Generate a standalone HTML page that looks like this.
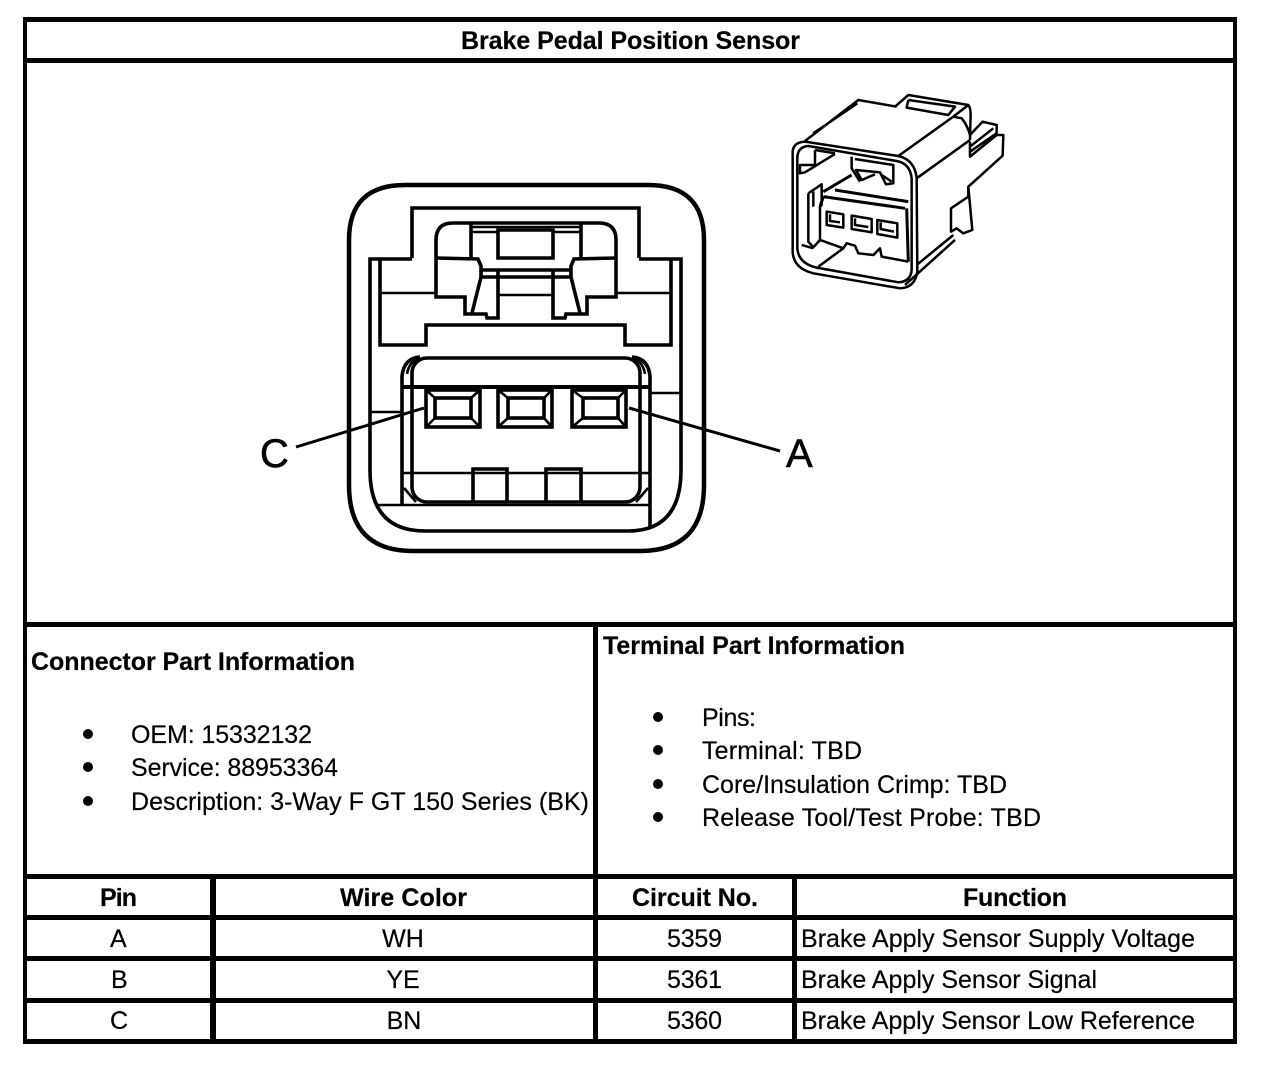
<!DOCTYPE html>
<html>
<head>
<meta charset="utf-8">
<style>
html,body{margin:0;padding:0;background:#fff;width:1264px;height:1072px;overflow:hidden}
svg{display:block}
text{font-family:"Liberation Sans",sans-serif;font-size:25px;fill:#000;stroke:#000;stroke-width:.2}
.b{font-weight:bold}
.l{font-size:40px;stroke-width:.6}
.d{fill:none;stroke:#000;stroke-width:3.6;stroke-linejoin:miter}
.t{fill:none;stroke:#000;stroke-width:2.6}
.p{fill:none;stroke:#000;stroke-width:7.5;stroke-linejoin:round}
</style>
</head>
<body>
<svg width="1264" height="1072" viewBox="0 0 1264 1072" xmlns="http://www.w3.org/2000/svg">
<rect width="1264" height="1072" fill="#fff"/>
<g fill="#000" shape-rendering="crispEdges">
<rect x="23" y="17" width="1214" height="5"/>
<rect x="23" y="58" width="1214" height="5"/>
<rect x="23" y="622" width="1214" height="5"/>
<rect x="23" y="874" width="1214" height="5"/>
<rect x="23" y="915" width="1214" height="5"/>
<rect x="23" y="956" width="1214" height="5"/>
<rect x="23" y="998" width="1214" height="5"/>
<rect x="23" y="1039" width="1214" height="5"/>
<rect x="23" y="17" width="4" height="1027"/>
<rect x="1233" y="17" width="4" height="1027"/>
<rect x="593" y="622" width="5" height="422"/>
<rect x="210" y="874" width="6" height="170"/>
<rect x="792" y="874" width="5" height="170"/>
</g>

<text class="b" x="461" y="49" textLength="339" lengthAdjust="spacing">Brake Pedal Position Sensor</text>
<text class="b" x="31" y="670" textLength="324" lengthAdjust="spacing">Connector Part Information</text>
<text class="b" x="603" y="654" textLength="302" lengthAdjust="spacing">Terminal Part Information</text>

<g fill="#000">
<circle cx="88" cy="734" r="5"/><circle cx="88" cy="767" r="5"/><circle cx="88" cy="801" r="5"/>
<circle cx="658" cy="717" r="5"/><circle cx="658" cy="750" r="5"/><circle cx="658" cy="784" r="5"/><circle cx="658" cy="817" r="5"/>
</g>
<text x="131" y="743" textLength="181" lengthAdjust="spacing">OEM: 15332132</text>
<text x="131" y="776" textLength="207" lengthAdjust="spacing">Service: 88953364</text>
<text x="131" y="810" textLength="458" lengthAdjust="spacing">Description: 3-Way F GT 150 Series (BK)</text>
<text x="702" y="726" textLength="54" lengthAdjust="spacing">Pins:</text>
<text x="702" y="759" textLength="160" lengthAdjust="spacing">Terminal: TBD</text>
<text x="702" y="793" textLength="305" lengthAdjust="spacing">Core/Insulation Crimp: TBD</text>
<text x="702" y="826" textLength="339" lengthAdjust="spacing">Release Tool/Test Probe: TBD</text>

<text class="b" x="100" y="906" textLength="37" lengthAdjust="spacing">Pin</text>
<text class="b" x="340" y="906" textLength="127" lengthAdjust="spacing">Wire Color</text>
<text class="b" x="632" y="906" textLength="126" lengthAdjust="spacing">Circuit No.</text>
<text class="b" x="963" y="906" textLength="104" lengthAdjust="spacing">Function</text>

<text x="110" y="947">A</text>
<text x="111" y="988">B</text>
<text x="110" y="1029">C</text>
<text x="403" y="947" text-anchor="middle">WH</text>
<text x="403" y="988" text-anchor="middle">YE</text>
<text x="404" y="1029" text-anchor="middle">BN</text>
<text x="667" y="947" textLength="55" lengthAdjust="spacing">5359</text>
<text x="667" y="988" textLength="55" lengthAdjust="spacing">5361</text>
<text x="667" y="1029" textLength="55" lengthAdjust="spacing">5360</text>
<text x="801" y="947" textLength="394" lengthAdjust="spacing">Brake Apply Sensor Supply Voltage</text>
<text x="801" y="988" textLength="296" lengthAdjust="spacing">Brake Apply Sensor Signal</text>
<text x="801" y="1029" textLength="394" lengthAdjust="spacing">Brake Apply Sensor Low Reference</text>

<!-- Front view -->
<path d="M349 240 Q349 185 405 185 L648 185 Q704 185 704 240 L704 485 Q704 551 640 551 L413 551 Q349 551 349 485 Z" fill="none" stroke="#000" stroke-width="4.5"/>
<path class="d" d="M412 258 L412 208 L639 208 L639 258"/>
<path class="d" d="M370 470 L370 259 L412 259 M639 259 L681 259 L681 470"/>
<path class="d" d="M370 470 Q370 531 425 531 L628 531 Q681 531 681 470"/>
<path class="d" d="M436 258 L436 240 Q436 223 453 223 L599 223 Q616 223 616 240 L616 258"/>
<path class="d" d="M471 223 L471 258 M581 223 L581 258"/>
<path class="t" d="M471 227 L581 227 M471 232 L498 232 M553 232 L581 232"/>
<path class="d" d="M498 230 L553 230 L553 258 L498 258 Z"/>
<path class="d" d="M380 260 L380 345 L426 345 L426 325 L625 325 L625 345 L671 345 L671 260"/>
<path class="t" d="M380 293 L436 293 M616 293 L671 293"/>
<!-- tabs -->
<path class="d" d="M436 258 L478 259 L481 266 L481 277 L472 313 M436 258 L436 297 L465 297 L465 314 L486 314 L487 318 L498 318 L498 270"/>
<path class="d" d="M616 258 L574 259 L571 266 L571 277 L580 313 M616 258 L616 297 L587 297 L587 314 L566 314 L565 318 L553 318 L553 270"/>
<path class="d" d="M481 270 L571 270 M481 277 L571 277"/>
<path class="t" d="M498 295 L553 295"/>

<!-- lower housing -->
<rect class="d" x="412" y="358" width="228" height="144" rx="15" ry="15"/>
<path class="d" d="M402 505 L402 376 Q404 358 420 357 M650 528 L650 376 Q648 358 632 357"/>
<path class="t" d="M407 374 Q409 362 418 359 M645 374 Q643 362 634 359"/>
<path class="d" d="M402 387 L650 387" style="stroke-width:4"/>
<path class="t" d="M402 473 L650 473 M377 505 L650 505"/>
<path class="t" d="M370 412 L402 412 M650 393 L681 393"/>
<path class="t" d="M404 488 L416 502 M648 488 L636 502"/>
<!-- pins -->
<g>
<rect class="d" x="426" y="390" width="54" height="37" style="fill:#fff"/>
<rect class="d" x="435" y="398" width="36" height="20"/>
<path class="t" d="M426 390 L435 398 M480 390 L471 398 M426 427 L435 418 M480 427 L471 418"/>
<rect class="d" x="498" y="390" width="54" height="37" style="fill:#fff"/>
<rect class="d" x="508" y="398" width="36" height="20"/>
<path class="t" d="M498 390 L508 398 M552 390 L544 398 M498 427 L508 418 M552 427 L544 418"/>
<rect class="d" x="572" y="390" width="54" height="37" style="fill:#fff"/>
<rect class="d" x="583" y="398" width="35" height="20"/>
<path class="t" d="M572 390 L583 398 M626 390 L618 398 M572 427 L583 418 M626 427 L618 418"/>
</g>
<path class="d" d="M473 502 L473 469 L507 469 L507 502 M546 502 L546 469 L581 469 L581 502"/>
<path d="M424 408 L296 447 M629 408 L780 451" fill="none" stroke="#000" stroke-width="3"/>
<text class="l" x="260" y="467">C</text>
<text class="l" x="786" y="467">A</text>

<!-- Perspective view -->
<g transform="translate(780 85) scale(0.3333)">
<path class="p" d="M38 200 Q40 172 75 170 L355 213 Q405 225 410 280 L412 560 Q405 608 360 610 L100 565 Q40 550 38 500 Z"/>
<path class="p" d="M52 215 Q55 185 85 183 L350 228 Q390 235 395 280 L395 555 Q392 590 355 592 L110 548 Q55 535 52 490 Z"/>
<path class="p" d="M75 168 L235 45 L350 65 M100 145 L232 55 M355 213 L520 95 L545 100 Q562 120 570 150"/>
<path class="p" d="M345 65 L385 30 L565 60 Q572 68 572 90 L570 165 M385 45 L525 65 L505 90 L380 68 L385 45 M520 95 L565 60"/>
<path class="p" d="M410 280 L570 165 M570 150 L608 110 L650 120 L650 150 L670 150 L668 212 L565 305 L565 335 L513 370 L513 440 L530 430 L550 445 L577 435 L565 305"/>
<path class="p" d="M570 170 L570 215 L650 150 M570 185 L640 130 M570 200 L650 145 M410 540 L520 450 M375 600 L525 465"/>
<path class="p" d="M105 195 L165 205 M105 195 L105 240 L60 240 L60 265 L75 262 L165 207"/>
<path class="p" d="M215 215 L215 250 L240 290 M225 222 L340 240 L340 295 L318 298 L300 262 L228 255 L245 285 L285 268 M305 270 L335 290"/>
<path class="p" d="M165 315 L385 350 M130 335 L375 370 M130 335 L120 365 M130 320 L215 270 M380 370 L385 530" style="stroke-width:9"/>
<path class="p" d="M85 325 L125 298 L125 360 L120 365 L120 465 M85 325 L85 470 L100 487 L120 465 L190 490 L200 475 L225 482 L235 505 L280 510 L300 490 L305 515 L385 530 M100 320 L100 365"/>
<path class="p" d="M140 380 L190 388 L190 428 L140 420 Z M215 392 L275 402 L275 442 L215 432 Z M292 405 L352 415 L352 458 L292 447 Z"/>
<path class="p" d="M150 388 L150 408 L180 412 M225 400 L225 420 L265 426 M302 412 L302 432 L342 440"/>
<path class="p" d="M190 490 L115 545 M65 480 L100 490"/>
</g>
</svg>
</body>
</html>
